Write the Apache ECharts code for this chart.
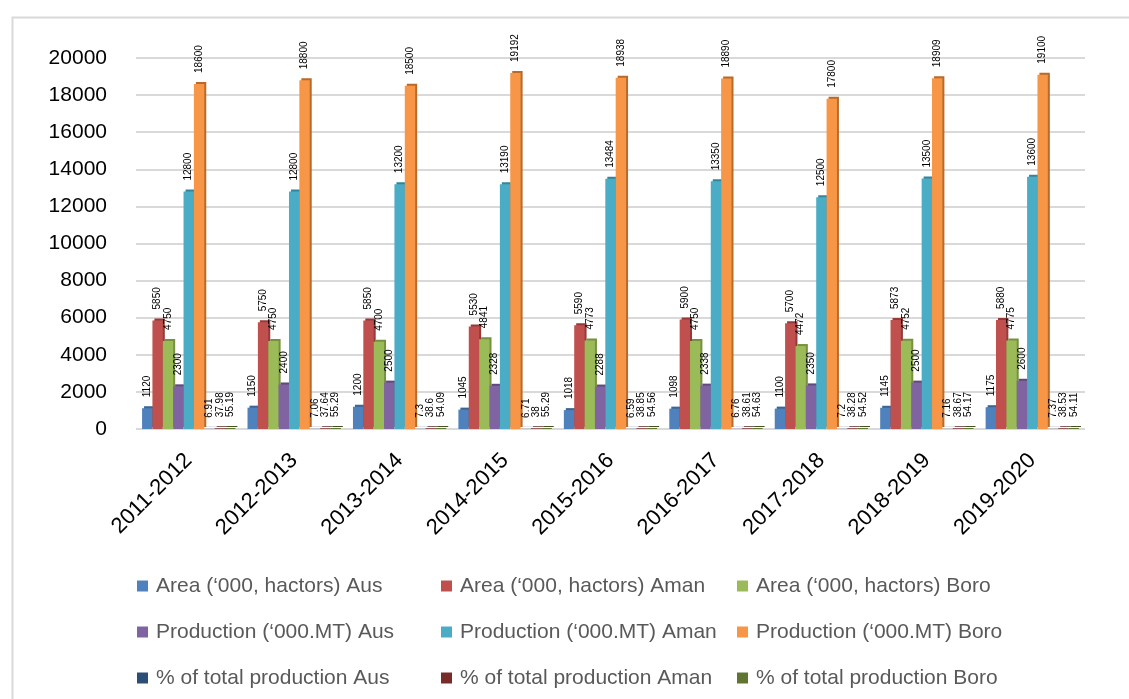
<!DOCTYPE html>
<html>
<head>
<meta charset="utf-8">
<title>Rice area and production by season</title>
<script src="https://cdn.jsdelivr.net/npm/echarts@6/dist/echarts.min.js"></script>
<style>
  html, body { margin: 0; padding: 0; background: #ffffff; }
  #chart { width: 1129px; height: 699px; }
</style>
</head>
<body>
<div id="chart"></div>
<script>
// Fiscal years on the category axis
const years = ['2011-2012', '2012-2013', '2013-2014', '2014-2015', '2015-2016',
               '2016-2017', '2017-2018', '2018-2019', '2019-2020'];

// Cultivated area ('000 hectares) per season
const areaAus  = [1120, 1150, 1200, 1045, 1018, 1098, 1100, 1145, 1175];
const areaAman = [5850, 5750, 5850, 5530, 5590, 5900, 5700, 5873, 5880];
const areaBoro = [4750, 4750, 4700, 4841, 4773, 4750, 4472, 4752, 4775];

// Production ('000 MT) per season
const prodAus  = [2300, 2400, 2500, 2328, 2288, 2338, 2350, 2500, 2600];
const prodAman = [12800, 12800, 13200, 13190, 13484, 13350, 12500, 13500, 13600];
const prodBoro = [18600, 18800, 18500, 19192, 18938, 18890, 17800, 18909, 19100];

// Share of total production (%)
const pctAus  = [6.91, 7.06, 7.3, 6.71, 6.59, 6.76, 7.2, 7.16, 7.37];
const pctAman = [37.98, 37.64, 38.6, 38, 38.85, 38.61, 38.28, 38.67, 38.53];
const pctBoro = [55.19, 55.29, 54.09, 55.29, 54.56, 54.63, 54.52, 54.17, 54.11];

// Value-axis ticks
const yTicks = [0, 2000, 4000, 6000, 8000, 10000, 12000, 14000, 16000, 18000, 20000];

const seriesDefs = [
  { name: 'Area (\u2018000, hactors) Aus',   data: areaAus,  color: '#4F81BD', side: '#3A6595' },
  { name: 'Area (\u2018000, hactors) Aman',  data: areaAman, color: '#C0504D', side: '#953A38' },
  { name: 'Area (\u2018000, hactors) Boro',  data: areaBoro, color: '#9BBB59', side: '#76903F' },
  { name: 'Production (\u2018000.MT) Aus',   data: prodAus,  color: '#8064A2', side: '#5F4A7D' },
  { name: 'Production (\u2018000.MT) Aman',  data: prodAman, color: '#4BACC6', side: '#31869D' },
  { name: 'Production (\u2018000.MT) Boro',  data: prodBoro, color: '#F79646', side: '#B86A2A' },
  { name: '% of total production Aus',       data: pctAus,   color: '#2C4D75', side: '#1E3652' },
  { name: '% of total production Aman',      data: pctAman,  color: '#772C2A', side: '#521E1D' },
  { name: '% of total production Boro',      data: pctBoro,  color: '#5F7530', side: '#425221' }
];

const font = "'Liberation Sans', Arial, sans-serif";

const series = seriesDefs.map(d => ({
  name: d.name,
  type: 'bar',
  data: d.data,
  barGap: '0%',
  barCategoryGap: '11.5%',
  itemStyle: {
    color: d.color,
    shadowColor: d.side,
    shadowOffsetX: 2,
    shadowOffsetY: -2,
    shadowBlur: 0
  },
  label: {
    show: true,
    position: 'top',
    rotate: 90,
    align: 'left',
    verticalAlign: 'middle',
    distance: 11,
    color: '#000000',
    fontSize: 10,
    fontFamily: font
  }
}));

function legendColumn(left, names) {
  return {
    orient: 'vertical',
    left: left,
    top: 575,
    padding: 0,
    itemWidth: 11,
    itemHeight: 11,
    itemGap: 24,
    icon: 'rect',
    data: names,
    textStyle: {
      color: '#595959',
      fontSize: 21,
      lineHeight: 22,
      fontFamily: font,
      padding: [0, 0, 0, 3]
    }
  };
}

const chart = echarts.init(document.getElementById('chart'), null, { renderer: 'canvas' });

chart.setOption({
  backgroundColor: '#ffffff',
  animation: false,
  graphic: [{
    type: 'rect',
    left: 10,
    top: 15,
    shape: { width: 1300, height: 900 },
    style: { fill: 'none', stroke: '#d9d9d9', lineWidth: 2 },
    silent: true,
    z: -10
  }],
  grid: { left: 136, right: 44, top: 58, bottom: 270, containLabel: false },
  legend: [
    legendColumn(137, [seriesDefs[0].name, seriesDefs[3].name, seriesDefs[6].name]),
    legendColumn(441, [seriesDefs[1].name, seriesDefs[4].name, seriesDefs[7].name]),
    legendColumn(737, [seriesDefs[2].name, seriesDefs[5].name, seriesDefs[8].name])
  ],
  xAxis: {
    type: 'category',
    data: years,
    axisLine: { show: false },
    axisTick: { show: false },
    axisLabel: {
      rotate: 45,
      interval: 0,
      margin: 28,
      color: '#000000',
      fontSize: 22,
      fontFamily: font
    }
  },
  yAxis: {
    type: 'value',
    min: yTicks[0],
    max: yTicks[yTicks.length - 1],
    interval: yTicks[1] - yTicks[0],
    axisLine: { show: false },
    axisTick: { show: false },
    axisLabel: {
      margin: 29,
      color: '#000000',
      fontSize: 21,
      fontFamily: font,
      formatter: v => String(v)
    },
    splitLine: { lineStyle: { color: '#d9d9d9', width: 2 } }
  },
  series: series
});
</script>
</body>
</html>
